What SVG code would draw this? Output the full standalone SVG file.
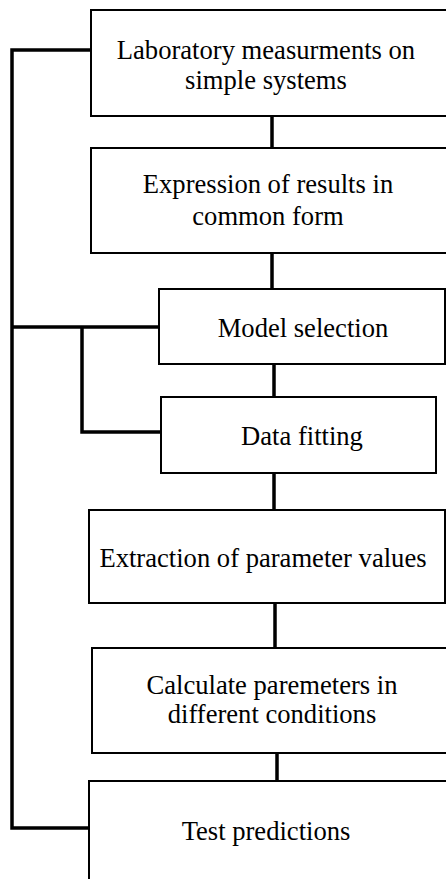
<svg xmlns="http://www.w3.org/2000/svg" width="446" height="879" viewBox="0 0 446 879">
<style>
.box{fill:#fff;stroke:#000;stroke-width:2}
.t{font-family:"Liberation Serif","Times New Roman",serif;font-size:26.6px;fill:#000;text-anchor:middle}
.c{fill:none;stroke:#000;stroke-width:3.5}
</style>
<rect x="0" y="0" width="446" height="879" fill="#fff"/>
<g id="connectors">
<path class="c" d="M272 116V148M272 253V289M274 364V397M274 473V510M275 603V648M277 753V781"/>
<path class="c" d="M91 50H12V828H89M12 327H159M82 327V432H161"/>
</g>
<g id="n1"><rect class="box" x="91" y="10" width="370" height="106"/>
<text class="t" x="266" y="59">Laboratory measurments on</text>
<text class="t" x="266" y="89">simple systems</text></g>
<g id="n2"><rect class="box" x="91" y="148" width="370" height="105"/>
<text class="t" x="268" y="193">Expression of results in</text>
<text class="t" x="268" y="225">common form</text></g>
<g id="n3"><rect class="box" x="159" y="289" width="286" height="75"/>
<text class="t" x="303" y="337">Model selection</text></g>
<g id="n4"><rect class="box" x="161" y="397" width="275" height="76"/>
<text class="t" x="302" y="445">Data fitting</text></g>
<g id="n5"><rect class="box" x="89" y="510" width="356" height="93"/>
<text class="t" x="263" y="567">Extraction of parameter values</text></g>
<g id="n6"><rect class="box" x="92" y="648" width="370" height="105"/>
<text class="t" x="272" y="694">Calculate paremeters in</text>
<text class="t" x="272" y="723">different conditions</text></g>
<g id="n7"><rect class="box" x="89" y="781" width="370" height="120"/>
<text class="t" x="266" y="840">Test predictions</text></g>
</svg>
